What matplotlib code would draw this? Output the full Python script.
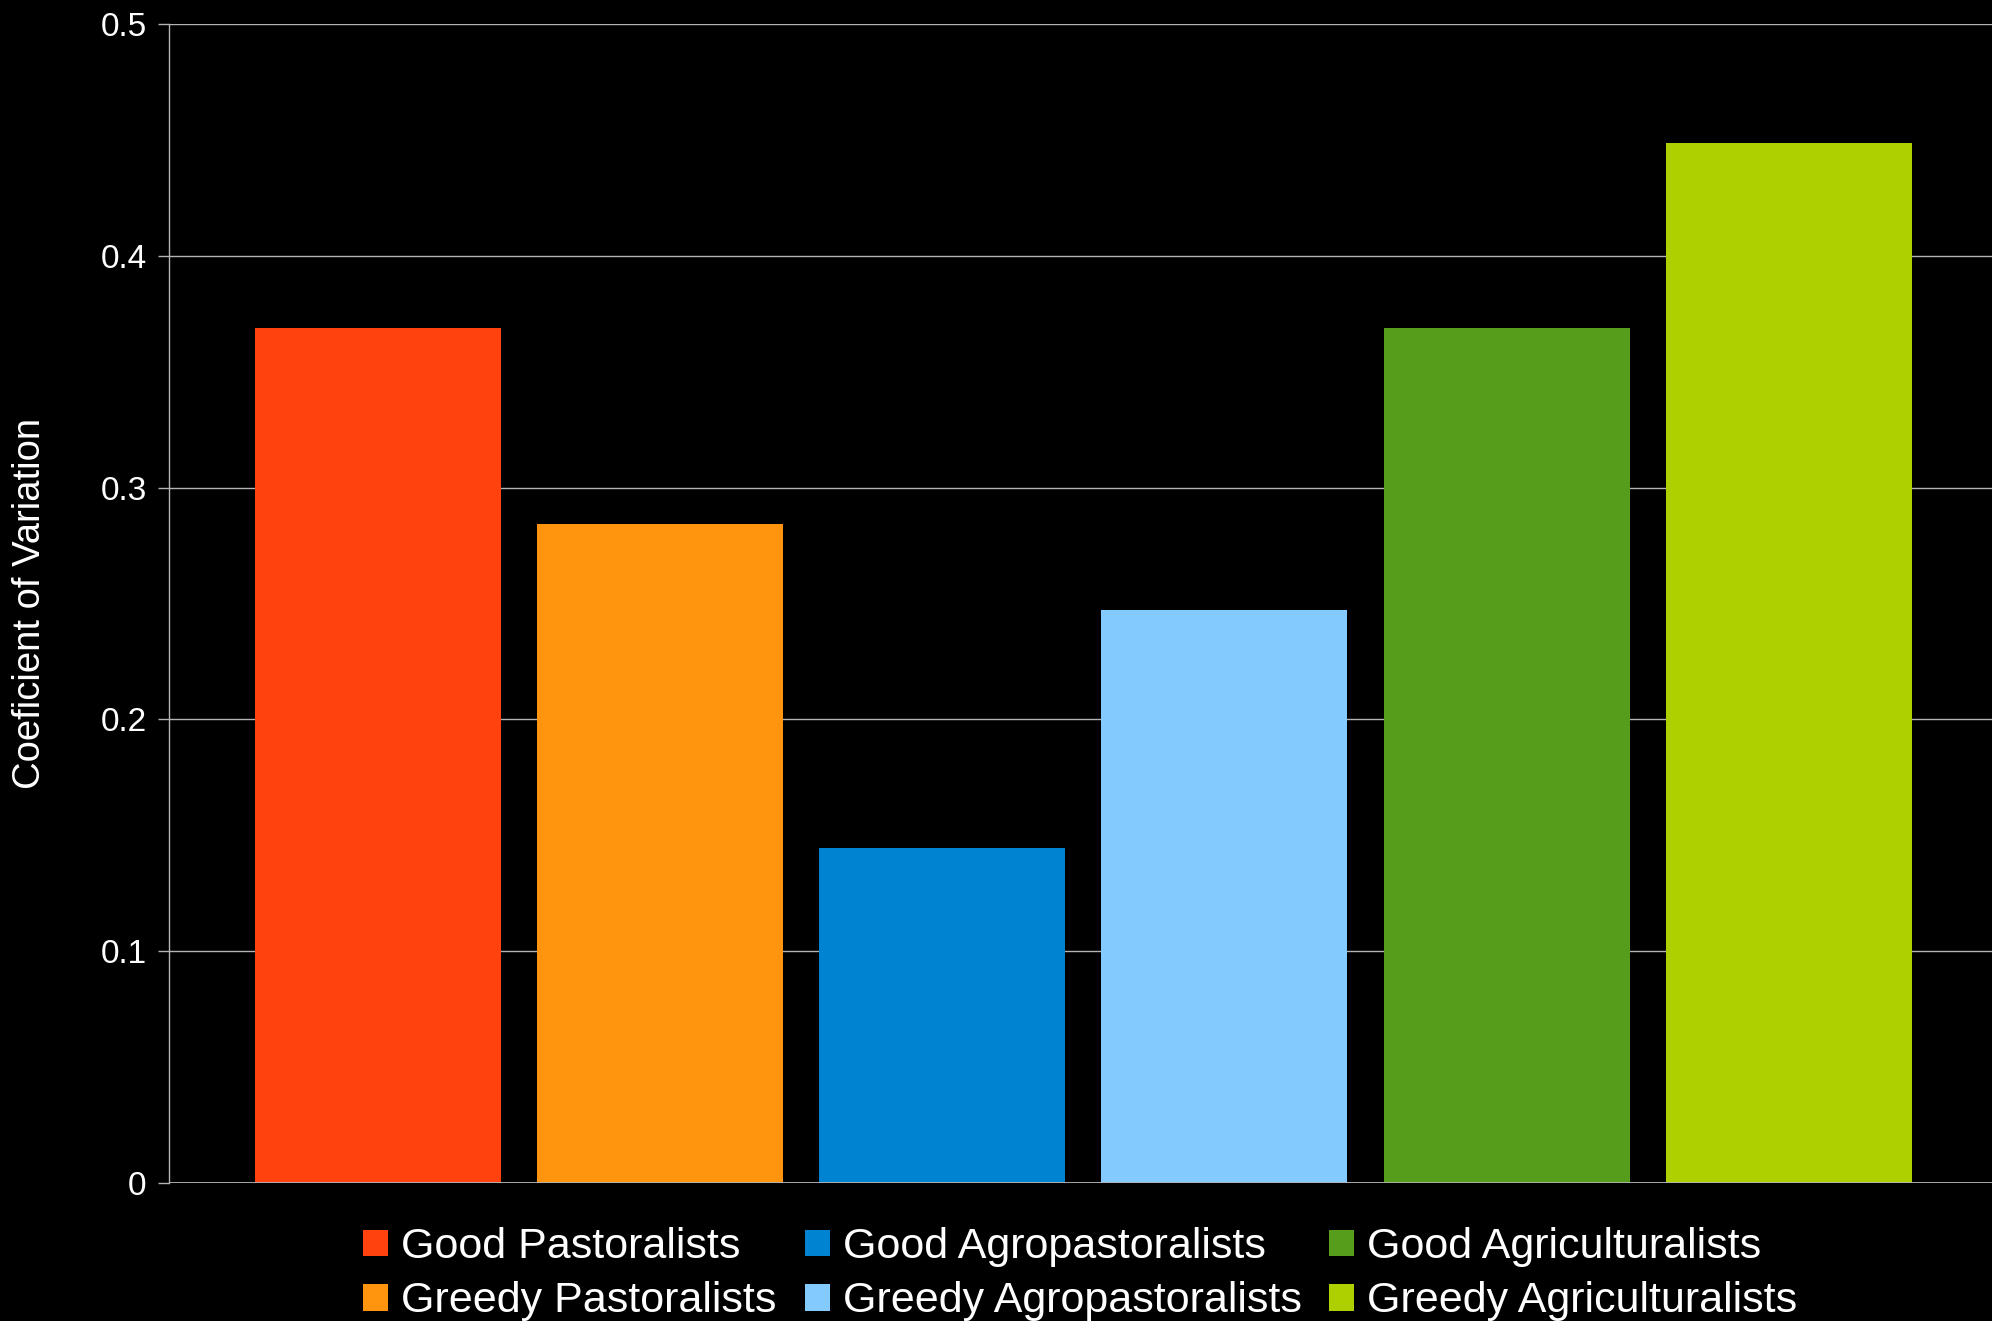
import matplotlib
matplotlib.use("Agg")
import matplotlib.pyplot as plt

labels = ["Good Pastoralists", "Greedy Pastoralists", "Good Agropastoralists",
          "Greedy Agropastoralists", "Good Agriculturalists", "Greedy Agriculturalists"]
values = [0.369, 0.2845, 0.1447, 0.2473, 0.369, 0.4485]
colors = ["#ff420e", "#ff950e", "#0084d1", "#83caff", "#579d1c", "#aecf00"]
yticks = [0, 0.1, 0.2, 0.3, 0.4, 0.5]
ytick_labels = ["0", "0.1", "0.2", "0.3", "0.4", "0.5"]

plt.rcParams["font.family"] = ["Liberation Sans", "DejaVu Sans"]

fig = plt.figure(figsize=(19.92, 13.21), dpi=100, facecolor="black")
ax = fig.add_axes([0.0848, 0.1045, 1 - 0.0848, 0.9818 - 0.1045])
ax.set_facecolor("black")

grid_c = "#b3b3b3"
ax.set_axisbelow(True)
ax.yaxis.grid(True, color=grid_c, linewidth=1.0)

for i, (lab, v, c) in enumerate(zip(labels, values, colors)):
    ax.bar(i, v, width=0.872, color=c, label=lab, linewidth=0)

ax.set_xlim(-0.74, 5.72)
ax.set_ylim(0, 0.5)
ax.set_yticks(yticks)
ax.set_yticklabels(ytick_labels)
ax.set_xticks([])

for s in ["top", "right", "bottom"]:
    ax.spines[s].set_visible(False)
ax.spines["left"].set_color(grid_c)
ax.spines["left"].set_linewidth(1.0)
ax.axhline(0, color=grid_c, linewidth=1.3, zorder=3)

ax.tick_params(axis="y", colors=grid_c, labelcolor="white", labelsize=24,
               length=8, width=1.0, pad=8)

ax.set_ylabel("Coeficient of Variation", color="white", fontsize=27.5, labelpad=38)

leg = fig.legend(loc="center", bbox_to_anchor=(0.5424, 0.0353), ncol=3,
                 frameon=False, fontsize=31, handlelength=0.58, handleheight=0.58,
                 handletextpad=0.3, columnspacing=0.65, labelspacing=0.33,
                 borderaxespad=0)
for t in leg.get_texts():
    t.set_color("white")

plt.savefig("out.png", facecolor="black")
